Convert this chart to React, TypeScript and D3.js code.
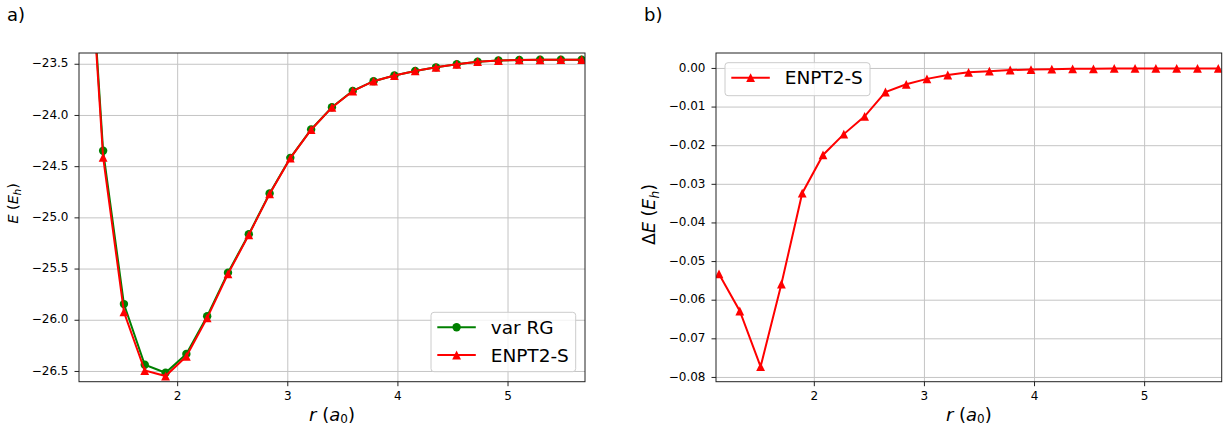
import React from "react";
import * as d3 from "d3";

// bond length grid (bohr), 0.6 .. 3.0 Å in 0.1 Å steps
const rBohr = [
  1.134, 1.323, 1.512, 1.701, 1.890, 2.079, 2.268, 2.457, 2.646, 2.835, 3.023, 3.212, 3.401,
  3.590, 3.779, 3.968, 4.157, 4.346, 4.535, 4.724, 4.913, 5.102, 5.291, 5.480, 5.669,
];

// total energies (Eh)
const eVarRG = [
  -21.2, -24.345, -25.842, -26.435, -26.513, -26.33, -25.96, -25.535, -25.16, -24.762, -24.414,
  -24.137, -23.92, -23.76, -23.665, -23.61, -23.565, -23.53, -23.5, -23.475, -23.463, -23.458,
  -23.456, -23.455, -23.455,
];
const eEnpt2S = [
  -21.253, -24.408, -25.919, -26.491, -26.545, -26.352, -25.977, -25.547, -25.166, -24.766,
  -24.417, -24.139, -23.921, -23.761, -23.665, -23.61, -23.565, -23.53, -23.5, -23.475, -23.463,
  -23.458, -23.456, -23.455, -23.455,
];

// energy difference ENPT2-S - var RG (Eh)
const dEnpt2S = [
  -0.0532, -0.0628, -0.0772, -0.0558, -0.0323, -0.0224, -0.017, -0.0124, -0.0061, -0.0041,
  -0.0027, -0.0017, -0.001, -0.0007, -0.0004, -0.0003, -0.0002, -0.0001, -0.0001, 0, 0, 0, 0, 0, 0,
];

const xTicks = [2, 3, 4, 5];
const eTicks = [-23.5, -24.0, -24.5, -25.0, -25.5, -26.0, -26.5];
const dTicks = [0, -0.01, -0.02, -0.03, -0.04, -0.05, -0.06, -0.07, -0.08];

const FONT = "'DejaVu Sans', sans-serif";
const INK = "#222";

const marker = (kind, x, y, color, k) =>
  kind === "o" ? (
    <circle key={k} cx={x} cy={y} r={4.2} fill={color} />
  ) : (
    <path key={k} d={`M${x},${y - 4.4}L${x - 4.4},${y + 4.4}L${x + 4.4},${y + 4.4}Z`} fill={color} />
  );

const Panel = ({ id, box, xDomain, yDomain, yTicks, yFormat, series, legend }) => {
  const x = d3.scaleLinear().domain(xDomain).range([box.left, box.right]);
  const y = d3.scaleLinear().domain(yDomain).range([box.bottom, box.top]);
  const line = d3
    .line()
    .x(d => x(d[0]))
    .y(d => y(d[1]));

  return (
    <g>
      <defs>
        <clipPath id={id}>
          <rect x={box.left} y={box.top} width={box.right - box.left} height={box.bottom - box.top} />
        </clipPath>
      </defs>
      {/* grid */}
      {xTicks.map(t => (
        <line key={"gx" + t} x1={x(t)} x2={x(t)} y1={box.top} y2={box.bottom} stroke="#c4c4c4" strokeWidth={1} />
      ))}
      {yTicks.map(t => (
        <line key={"gy" + t} x1={box.left} x2={box.right} y1={y(t)} y2={y(t)} stroke="#c4c4c4" strokeWidth={1} />
      ))}
      {/* data */}
      <g clipPath={`url(#${id})`}>
        {series.map((s, i) => {
          const pts = s.xs.map((v, j) => [v, s.ys[j]]);
          return (
            <g key={i}>
              <path d={line(pts)} fill="none" stroke={s.color} strokeWidth={2} />
              {pts.map((p, j) => marker(s.marker, x(p[0]), y(p[1]), s.color, j))}
            </g>
          );
        })}
      </g>
      {/* frame */}
      <rect
        x={box.left}
        y={box.top}
        width={box.right - box.left}
        height={box.bottom - box.top}
        fill="none"
        stroke={INK}
        strokeWidth={1}
      />
      {/* x ticks */}
      {xTicks.map(t => (
        <g key={"tx" + t}>
          <line x1={x(t)} x2={x(t)} y1={box.bottom} y2={box.bottom + 4.5} stroke={INK} />
          <text x={x(t)} y={box.bottom + 18.5} textAnchor="middle" fontSize={12} fontFamily={FONT}>
            {t}
          </text>
        </g>
      ))}
      {/* y ticks */}
      {yTicks.map(t => (
        <g key={"ty" + t}>
          <line x1={box.left - 4.5} x2={box.left} y1={y(t)} y2={y(t)} stroke={INK} />
          <text x={box.left - 10.5} y={y(t) + 3.2} textAnchor="end" fontSize={12} fontFamily={FONT}>
            {yFormat(t)}
          </text>
        </g>
      ))}
      {/* x label */}
      <text x={(box.left + box.right) / 2} y={420.5} textAnchor="middle" fontSize={18} fontFamily={FONT}>
        <tspan fontStyle="italic">r</tspan>
        <tspan> (</tspan>
        <tspan fontStyle="italic">a</tspan>
        <tspan fontSize={12} dy={2.6}>0</tspan>
        <tspan dy={-2.6}>)</tspan>
      </text>
      {/* legend */}
      <rect
        x={legend.x}
        y={legend.y}
        width={legend.w}
        height={legend.h}
        rx={3}
        fill="white"
        fillOpacity={0.8}
        stroke="#cccccc"
        strokeWidth={1}
      />
      {series.map((s, i) => {
        const ry = legend.y + 15 + i * 27.7;
        const lx = legend.x + 6.3;
        return (
          <g key={"lg" + i}>
            <line x1={lx} x2={lx + 38.5} y1={ry} y2={ry} stroke={s.color} strokeWidth={2} />
            {marker(s.marker, lx + 19.3, ry, s.color, "m")}
            <text x={legend.x + 59.7} y={ry + 6.5} fontSize={18.5} fontFamily={FONT}>
              {s.name}
            </text>
          </g>
        );
      })}
    </g>
  );
};

const App = () => {
  const fmtE = d3.format(".1f");
  const fmtD = d3.format(".2f");
  return (
    <svg
      width={1225}
      height={426}
      style={{ position: "absolute", left: 0, top: 0, background: "white" }}
      fontFamily={FONT}
    >
      <text x={7} y={20.7} fontSize={18}>
        a)
      </text>
      <text x={644} y={20.7} fontSize={18}>
        b)
      </text>

      <Panel
        id="clipA"
        box={{ left: 79, right: 585, top: 53, bottom: 381.7 }}
        xDomain={[1.104, 5.699]}
        yDomain={[-26.6, -23.39]}
        yTicks={eTicks}
        yFormat={fmtE}
        series={[
          { name: "var RG", xs: rBohr, ys: eVarRG, color: "green", marker: "o" },
          { name: "ENPT2-S", xs: rBohr, ys: eEnpt2S, color: "red", marker: "^" },
        ]}
        legend={{ x: 431, y: 312.3, w: 144.7, h: 59.4 }}
      />
      <Panel
        id="clipB"
        box={{ left: 716, right: 1221.7, top: 53, bottom: 381.7 }}
        xDomain={[1.107, 5.7]}
        yDomain={[-0.0811, 0.004]}
        yTicks={dTicks}
        yFormat={fmtD}
        series={[{ name: "ENPT2-S", xs: rBohr, ys: dEnpt2S, color: "red", marker: "^" }]}
        legend={{ x: 725, y: 62.7, w: 145, h: 33 }}
      />

      {/* y labels */}
      <text transform="translate(17.8,183) rotate(-90)" textAnchor="end" fontSize={14.5}>
        <tspan fontStyle="italic">E</tspan>
        <tspan> (</tspan>
        <tspan fontStyle="italic">E</tspan>
        <tspan fontStyle="italic" fontSize={10.2} dy={2.9}>h</tspan>
        <tspan dy={-2.9}>)</tspan>
      </text>
      <text transform="translate(655,184) rotate(-90)" textAnchor="end" fontSize={17.5}>
        <tspan>Δ</tspan>
        <tspan fontStyle="italic">E</tspan>
        <tspan> (</tspan>
        <tspan fontStyle="italic">E</tspan>
        <tspan fontStyle="italic" fontSize={12.2} dy={3.5}>h</tspan>
        <tspan dy={-3.5}>)</tspan>
      </text>
    </svg>
  );
};

export default App;
